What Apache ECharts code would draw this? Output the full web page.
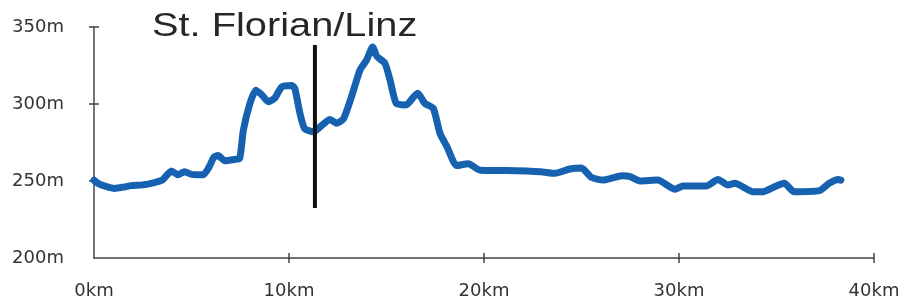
<!DOCTYPE html>
<html>
<head>
<meta charset="utf-8">
<script src="https://cdn.jsdelivr.net/npm/echarts@6/dist/echarts.min.js"></script>
<style>
html,body{margin:0;padding:0;background:#fff;}
#chart{width:904px;height:306px;}
</style>
</head>
<body>
<div id="chart"></div>
<script>
// Distance along the route (km)
const distanceKm = [0, 0.2, 0.6, 1.06, 1.5, 1.9, 2.5, 3.1, 3.5, 3.97, 4.3, 4.65, 5.0, 5.6, 5.9, 6.15, 6.36, 6.7, 7.2, 7.47,
  7.66, 8.0, 8.3, 8.6, 8.94, 9.28, 9.62, 10.14, 10.3, 10.56, 10.8, 11.25, 11.76, 12.1, 12.45, 12.8, 13.2, 13.64, 13.98,
  14.29, 14.5, 14.92, 15.18, 15.5, 16.0, 16.4, 16.6, 16.97, 17.4, 17.74, 18.1, 18.6, 19.2, 19.8, 21.16, 22.9, 23.64,
  24.4, 25.0, 25.5, 26.1, 27.1, 27.5, 28.0, 28.9, 29.8, 30.2, 31.4, 32.0, 32.5, 32.87, 33.8, 34.3, 34.9, 35.4, 35.9,
  37.2, 37.7, 38.17, 38.3];
// Elevation (m)
const elevationM = [250.5, 248.5, 246.5, 245.2, 246, 247, 247.5, 249, 250.5, 256.5, 254, 256, 254.3, 254, 259, 265.5, 266.5, 263.2, 264, 264.7,
  283, 300.5, 309, 306, 301.5, 304, 311, 312, 310, 294, 284, 282, 287, 290, 287.5, 290.5, 304.5, 322, 328.6,
  337, 331, 326.4, 315.6, 300.4, 299.4, 304.7, 307, 300.4, 297.2, 281, 272.3, 260, 261.2, 257, 256.8, 256, 255,
  257.8, 258.4, 252.4, 250.6, 253.4, 252.8, 250, 250.6, 244.6, 246.8, 246.8, 251, 247.4, 248.5, 243, 243, 246.3, 248.5, 243,
  243.7, 248.5, 251, 250.6];
// Tick values
const xTicks = [0, 10, 20, 30, 40];
const yTicks = [200, 250, 300, 350];
// Marker: St. Florian/Linz
const markerLabel = 'St. Florian/Linz';
const markerKm = [11.33, 11.33];
const markerM = [232.5, 338.3];

const profile = distanceKm.map((d, i) => [d, elevationM[i]]);
const marker = markerKm.map((d, i) => [d, markerM[i]]);

const axisColor = '#444';
const labelStyle = {fontFamily: 'DejaVu Sans', fontSize: 18, color: '#333'};

const chart = echarts.init(document.getElementById('chart'), null, {renderer: 'canvas'});
chart.setOption({
  animation: false,
  backgroundColor: '#fff',
  grid: {left: 94, right: 30, top: 27, bottom: 48, containLabel: false},
  xAxis: [{
    type: 'value', min: 0, max: 40, interval: 10, position: 'bottom',
    splitLine: {show: false},
    axisLine: {show: true, onZero: false, lineStyle: {color: axisColor, width: 1.5}},
    axisTick: {show: true, customValues: xTicks.slice(1), length: 5, lineStyle: {color: axisColor, width: 1.5}},
    axisLabel: Object.assign({customValues: xTicks, margin: 24, formatter: '{value}km'}, labelStyle)
  }, {
    type: 'value', min: 0, max: 40, interval: 10, position: 'bottom',
    splitLine: {show: false},
    axisLine: {show: false, onZero: false},
    axisTick: {show: true, inside: true, customValues: xTicks.slice(1), length: 5, lineStyle: {color: axisColor, width: 1.5}},
    axisLabel: {show: false}
  }],
  yAxis: [{
    type: 'value', min: 200, max: 350, interval: 50, position: 'left',
    splitLine: {show: false},
    axisLine: {show: true, onZero: false, lineStyle: {color: axisColor, width: 1.5}},
    axisTick: {show: true, customValues: yTicks.slice(1), length: 5, lineStyle: {color: axisColor, width: 1.5}},
    axisLabel: Object.assign({customValues: yTicks, margin: 30, formatter: '{value}m', padding: [0, 0, 8, 0]}, labelStyle)
  }, {
    type: 'value', min: 200, max: 350, interval: 50, position: 'left',
    splitLine: {show: false},
    axisLine: {show: false, onZero: false},
    axisTick: {show: true, inside: true, customValues: yTicks.slice(1), length: 5, lineStyle: {color: axisColor, width: 1.5}},
    axisLabel: {show: false}
  }],
  series: [{
    type: 'line', data: profile, xAxisIndex: 0, yAxisIndex: 0,
    showSymbol: false, symbol: 'none', smooth: 0.2, z: 3,
    lineStyle: {color: '#1762b0', width: 7, cap: 'round', join: 'round'}
  }, {
    type: 'line', data: marker, xAxisIndex: 0, yAxisIndex: 0,
    showSymbol: false, symbol: 'none', z: 4,
    lineStyle: {color: '#111', width: 4}
  }],
  graphic: [{
    type: 'text', x: 152, y: 27, scaleX: 1.17, z: 10,
    style: {text: markerLabel, fontFamily: 'Liberation Sans', fontSize: 34, fill: '#262626', verticalAlign: 'middle', align: 'left'}
  }]
});
</script>
</body>
</html>
